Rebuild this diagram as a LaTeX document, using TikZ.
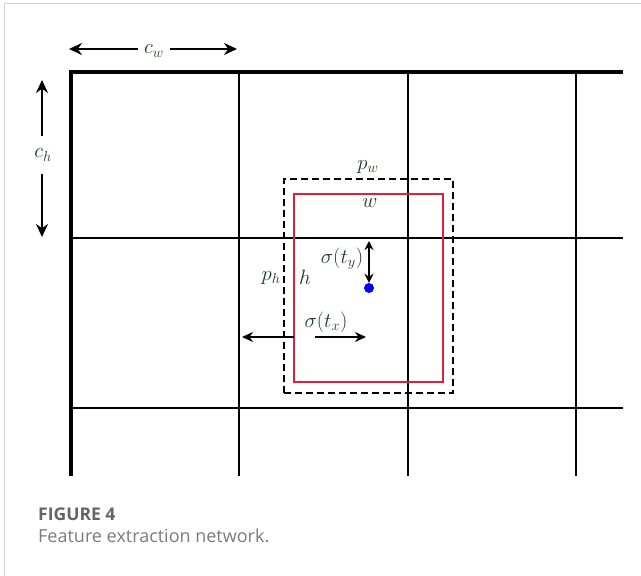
\documentclass[tikz,border=0pt]{standalone}
\usepackage{fontspec}
\newfontfamily\capfont{Open Sans}
\usetikzlibrary{arrows.meta}
\definecolor{labelgreen}{RGB}{28,58,36}
\definecolor{boxred}{RGB}{226,30,60}
\definecolor{capgray}{RGB}{100,100,100}
\tikzset{
  dim/.style={line width=1.9pt, -{Stealth[length=13pt,width=12pt]}},
  smalldim/.style={line width=1.7pt, {Stealth[length=9pt,width=9pt]}-{Stealth[length=9pt,width=9pt]}},
  lbl/.style={text=labelgreen, font=\fontsize{20}{24}\selectfont, inner sep=1pt},
  grid/.style={line width=2.6pt},
}

\begin{document}
\begin{tikzpicture}[x=1pt,y=-1pt]
    \useasboundingbox (0,0) rectangle (641,576);
    % Figure frame
    \draw[gray!35, line width=1pt] (4,576) -- (4,3) -- (641,3);

    % Grid of cells
    \draw[line width=4pt, line join=miter] (71,476) -- (71,72) -- (623,72);
    \foreach \x in {239,408,576} {
        \draw[grid] (\x,72) -- (\x,476);
    }
    \foreach \y in {238,408} {
        \draw[grid] (71,\y) -- (623,\y);
    }

    % Cell size
    \node[lbl, inner xsep=6pt] (cw) at (154,51) {$c_w$};
    \coordinate (cwl) at (69,49);
    \coordinate (cwr) at (237,49);
    \draw[dim] (cw.west |- cwl) -- (cwl);
    \draw[dim] (cw.east |- cwr) -- (cwr);

    \node[lbl, inner ysep=13pt] (ch) at (43,155) {$c_h$};
    \coordinate (cht) at (42,80);
    \coordinate (chb) at (42,237);
    \draw[dim] (ch.north -| cht) -- (cht);
    \draw[dim] (ch.south -| chb) -- (chb);

    % Prior box and predicted box
    \node[draw, dashed, dash pattern=on 7pt off 4pt, line width=2pt, minimum width=169pt, minimum height=214pt, inner sep=0pt, outer sep=0pt] (prior) at (368.5,286) {};
    \node[draw=boxred, line width=1.8pt, minimum width=149pt, minimum height=188pt, inner sep=0pt, outer sep=0pt] (pred) at (368.5,288) {};
    \node[circle, fill=blue, minimum size=10pt, inner sep=0pt] (ctr) at (369,288) {};

    \node[lbl] (pw) at (368,167) {$p_w$};
    \node[lbl] (w) at (370,203) {$w$};
    \node[lbl] (ph) at (271,278) {$p_h$};
    \node[lbl] (h) at (305,277) {$h$};
    \node[lbl] (sy) at (342,259) {$\sigma(t_y)$};
    \node[lbl] (sx) at (326,322) {$\sigma(t_x)$};

    % Offsets
    \coordinate (ty) at (369,241);
    \draw[smalldim] (ty) -- (ctr);
    \coordinate (txa) at (315,337);
    \coordinate (txb) at (366,337);
    \coordinate (pl) at (242,337);
    \draw[dim, -{Stealth[length=11pt,width=10pt]}] (txa) -- (txb);
    \draw[dim, -{Stealth[length=11pt,width=10pt]}] (pred.west |- txa) -- (pl);

    % Caption
    \node[anchor=base west, inner sep=0pt, text=capgray, font=\capfont\bfseries\fontsize{17.5}{20}\selectfont] (fig) at (38,520) {FIGURE 4};
    \node[anchor=base west, inner sep=0pt, text=capgray!85, font=\capfont\fontsize{18}{21}\selectfont] (cap) at (38,542) {Feature extraction network.};
\end{tikzpicture}
\end{document}
